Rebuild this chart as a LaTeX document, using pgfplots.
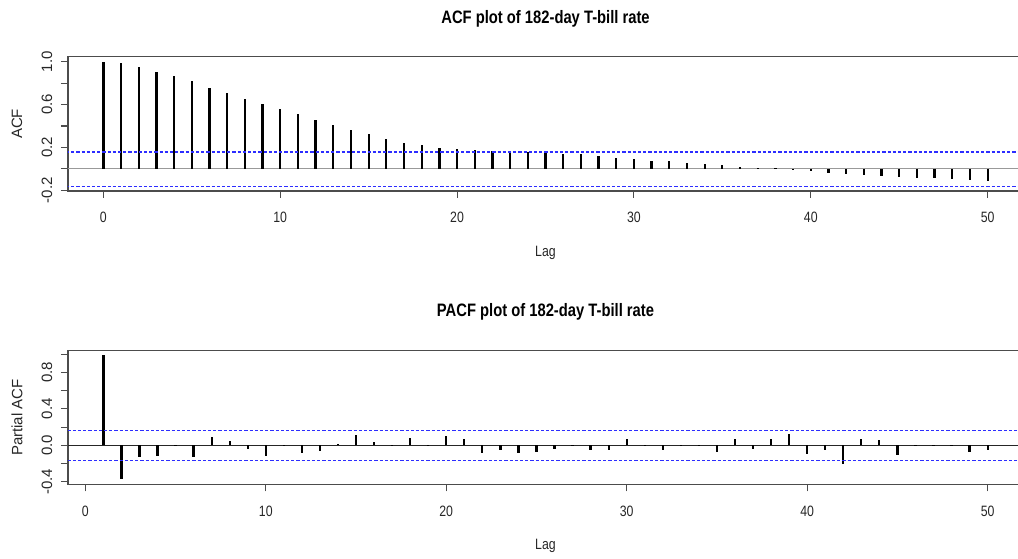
\documentclass[border=0pt]{standalone}
\usepackage{fontspec}
\setmainfont{Liberation Sans}[FakeStretch=0.82]
\newfontfamily\rotfont{Liberation Sans}
\usepackage{graphicx}
\usepackage{pgfplots}
\pgfplotsset{compat=1.18}

\pgfplotstableread{
lag acf
0 1.000
1 0.986
2 0.948
3 0.905
4 0.867
5 0.817
6 0.757
7 0.710
8 0.654
9 0.601
10 0.554
11 0.510
12 0.457
13 0.407
14 0.366
15 0.322
16 0.282
17 0.244
18 0.222
19 0.197
20 0.182
21 0.172
22 0.163
23 0.160
24 0.156
25 0.147
26 0.141
27 0.135
28 0.116
29 0.103
30 0.091
31 0.078
32 0.072
33 0.053
34 0.047
35 0.034
36 0.022
37 0.012
38 0.004
39 -0.006
40 -0.016
41 -0.034
42 -0.047
43 -0.056
44 -0.063
45 -0.072
46 -0.081
47 -0.088
48 -0.094
49 -0.103
50 -0.116
}\acfdata

\pgfplotstableread{
lag pacf
1 0.987
2 -0.372
3 -0.131
4 -0.117
5 -0.004
6 -0.131
7 0.095
8 0.051
9 -0.036
10 -0.117
11 0.004
12 -0.080
13 -0.058
14 0.018
15 0.109
16 0.040
17 0.004
18 0.084
19 -0.004
20 0.106
21 0.069
22 -0.080
23 -0.051
24 -0.078
25 -0.077
26 -0.040
27 0.005
28 -0.047
29 -0.051
30 0.073
31 -0.005
32 -0.047
33 0.005
34 -0.005
35 -0.073
36 0.069
37 -0.036
38 0.069
39 0.124
40 -0.091
41 -0.047
42 -0.200
43 0.069
44 0.062
45 -0.102
46 -0.010
47 0.010
48 0.003
49 -0.077
50 -0.047
}\pacfdata

\definecolor{cib}{RGB}{45,45,255}

\pgfplotsset{
  rstyle/.style={
    scale only axis,
    width=716.25pt,
    axis line style={black!70, line width=0.8pt},
    tick align=outside,
    xtick pos=bottom, ytick pos=left,
    major tick length=5.25pt,
    tick style={black!70, line width=0.8pt},
    xtick={0,10,20,30,40,50},
    xticklabels={0,10,20,30,40,50},
    xticklabel style={anchor=center, yshift=-20pt+5.25pt, font=\fontsize{11.25}{12}\selectfont, text=black!85},
    yticklabel style={xshift=-10.5pt, rotate=90, anchor=center, font=\fontsize{11.25}{12}\rotfont, text=black!85},
    xlabel style={at={(axis description cs:0.5,-0.462)}, anchor=center, font=\fontsize{11.25}{12}\selectfont, text=black!85},
    ylabel style={at={(axis description cs:-0.0534,0.5)}, anchor=center, rotate=0, font=\fontsize{11.25}{12}\rotfont, text=black!85},
    title style={anchor=center, font=\fontsize{13.5}{15}\selectfont\bfseries},
    xlabel={Lag},
    clip=true,
  },
  cil/.style={color=cib, line width=1.1pt, dash pattern=on 2.4pt off 1.5pt},
}

\begin{document}
\begin{tikzpicture}
\useasboundingbox (0,0) rectangle (763.5pt,419.25pt);

% ACF
\begin{axis}[rstyle,
  at={(51pt,276pt)}, anchor=south west,
  height=100.7pt,
  xmin=-2, xmax=52, ymin=-0.206, ymax=1.046,
  ytick={-0.2,0,0.2,0.4,0.6,0.8,1.0},
  yticklabels={-0.2,,0.2,,0.6,,1.0},
  ylabel={ACF},
  title={ACF plot of 182-day T-bill rate},
  title style={at={(axis description cs:0.5,1.225)}},
]
\addplot[gray!80, line width=0.8pt] coordinates {(-3,0) (53,0)};
\addplot[ycomb, black, line width=1.7pt, mark=none] table[x=lag, y=acf] {\acfdata};
\addplot[cil] coordinates {(-3,0.158) (53,0.158)};
\addplot[cil] coordinates {(-3,-0.162) (53,-0.162)};
\end{axis}

% PACF
\begin{axis}[rstyle,
  at={(51pt,56pt)}, anchor=south west,
  height=100.2pt,
  xmin=-0.96, xmax=51.96, ymin=-0.426, ymax=1.037,
  ytick={-0.4,-0.2,0,0.2,0.4,0.6,0.8,1.0},
  yticklabels={-0.4,,0.0,,0.4,,0.8,},
  ylabel={Partial ACF},
  title={PACF plot of 182-day T-bill rate},
  title style={at={(axis description cs:0.5,1.23)}},
]
\addplot[black!85, line width=0.8pt] coordinates {(-3,0) (53,0)};
\addplot[ycomb, black, line width=1.7pt, mark=none] table[x=lag, y=pacf] {\pacfdata};
\addplot[cil] coordinates {(-3,0.166) (53,0.166)};
\addplot[cil] coordinates {(-3,-0.166) (53,-0.166)};
\end{axis}
\end{tikzpicture}
\end{document}
